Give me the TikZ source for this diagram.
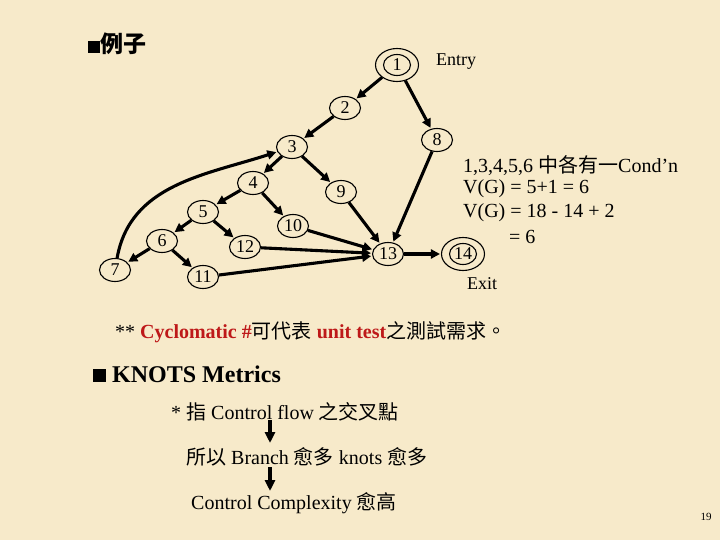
\documentclass[tikz,border=0pt]{standalone}
\usepackage{fontspec}
\setmainfont{Liberation Serif}
\newfontfamily\cjk{Noto Sans CJK TC}
\usepackage{xcolor}
\usetikzlibrary{arrows.meta,positioning,shapes.geometric}
\definecolor{paper}{RGB}{247,234,202}
\definecolor{hilite}{RGB}{190,25,25}

\begin{document}
\begin{tikzpicture}[x=1pt, y=-1pt, font=\fontsize{20}{22}\selectfont,
  nd/.style={draw, ellipse, line width=1.1pt, minimum width=31pt, minimum height=23pt, inner sep=0pt, font=\fontsize{18}{18}\selectfont},
  inr/.style={nd, minimum width=27pt, minimum height=21pt},
  outer/.style={draw, ellipse, line width=1.1pt, minimum width=43pt, minimum height=33pt, inner sep=0pt},
  e/.style={-{Triangle[length=9pt,width=9pt]}, line width=3.1pt, shorten >=1pt},
  txt/.style={anchor=west, inner sep=0pt}]
\useasboundingbox[fill=paper] (0,0) rectangle (720,540);
% title
\node[anchor=west, inner sep=0pt, font=\fontsize{23}{25}\selectfont\cjk\bfseries] (title) at (88,44) {\rule{12pt}{12pt}例子};
% flow graph
\node[inr](n1) at (397,65){1}; \node[outer](n1o) at (n1){};
\node[nd](n2) at (345,108){2}; \node[nd](n8) at (437,140){8};
\node[nd](n3) at (292,147){3}; \node[nd](n4) at (253,183){4};
\node[nd](n9) at (341,192){9}; \node[nd](n5) at (203,212){5};
\node[nd](n10) at (293,226){10}; \node[nd](n6) at (162,241){6};
\node[nd](n12) at (245,247){12}; \node[nd](n13) at (388,254){13};
\node[nd](n7) at (115,270){7}; \node[nd](n11) at (203,277){11};
\node[inr](n14) at (463,254){14}; \node[outer](n14o) at (n14){};
\node[txt, font=\fontsize{18}{20}\selectfont] (entry) at (436,62){Entry};
\node[inner sep=0pt, font=\fontsize{18}{20}\selectfont] (exit) at (482,284){Exit};
\draw[e](n1o)--(n2); \draw[e](n1o)--(n8); \draw[e](n2)--(n3);
\draw[e](n3)--(n4); \draw[e](n3)--(n9); \draw[e](n4)--(n5);
\draw[e](n4)--(n10); \draw[e](n5)--(n6); \draw[e](n5)--(n12);
\draw[e](n6)--(n7); \draw[e](n6)--(n11);
\draw[e](n7)to[out=80,in=198](n3);
\draw[e](n8)--(n13); \draw[e](n9)--(n13); \draw[e](n10)--(n13);
\draw[e](n12)--(n13); \draw[e](n11)--(n13); \draw[e](n13)--(n14o);
% cyclomatic number
\node[txt](c1) at (463,166){1,3,4,5,6 {\cjk 中各有一}Cond’n};
\node[txt](c2) at (463,189){V(G) = 5+1 = 6};
\node[txt](c3) at (463,213){V(G) = 18 - 14 + 2};
\node[txt](c4) at (509,237){= 6};
\node[txt] (note) at (115,332){** \textcolor{hilite}{\bfseries Cyclomatic \#}{\cjk 可代表} \textcolor{hilite}{\bfseries unit test}{\cjk 之測試需求。}};
% knots
\node[txt, font=\fontsize{24}{26}\selectfont\bfseries] (knots) at (93,374){\rule{13pt}{13pt}\hspace{6pt}KNOTS Metrics};
\node[txt] (k1) at (171,412){* {\cjk 指} Control flow {\cjk 之交叉點}};
\node[txt] (k2) at (186,457){{\cjk 所以} Branch {\cjk 愈多} knots {\cjk 愈多}};
\node[txt] (k3) at (191,503){Control Complexity {\cjk 愈高}};
\coordinate (a1) at (270,420); \coordinate (b1) at (270,444);
\coordinate (a2) at (270,467); \coordinate (b2) at (270,492);
\draw[e, -{Triangle[length=11pt,width=10pt]}](a1)--(b1); \draw[e, -{Triangle[length=11pt,width=10pt]}](a2)--(b2);
\node[font=\fontsize{11}{12}\selectfont] (page) at (706,517){19};
\end{tikzpicture}
\end{document}
